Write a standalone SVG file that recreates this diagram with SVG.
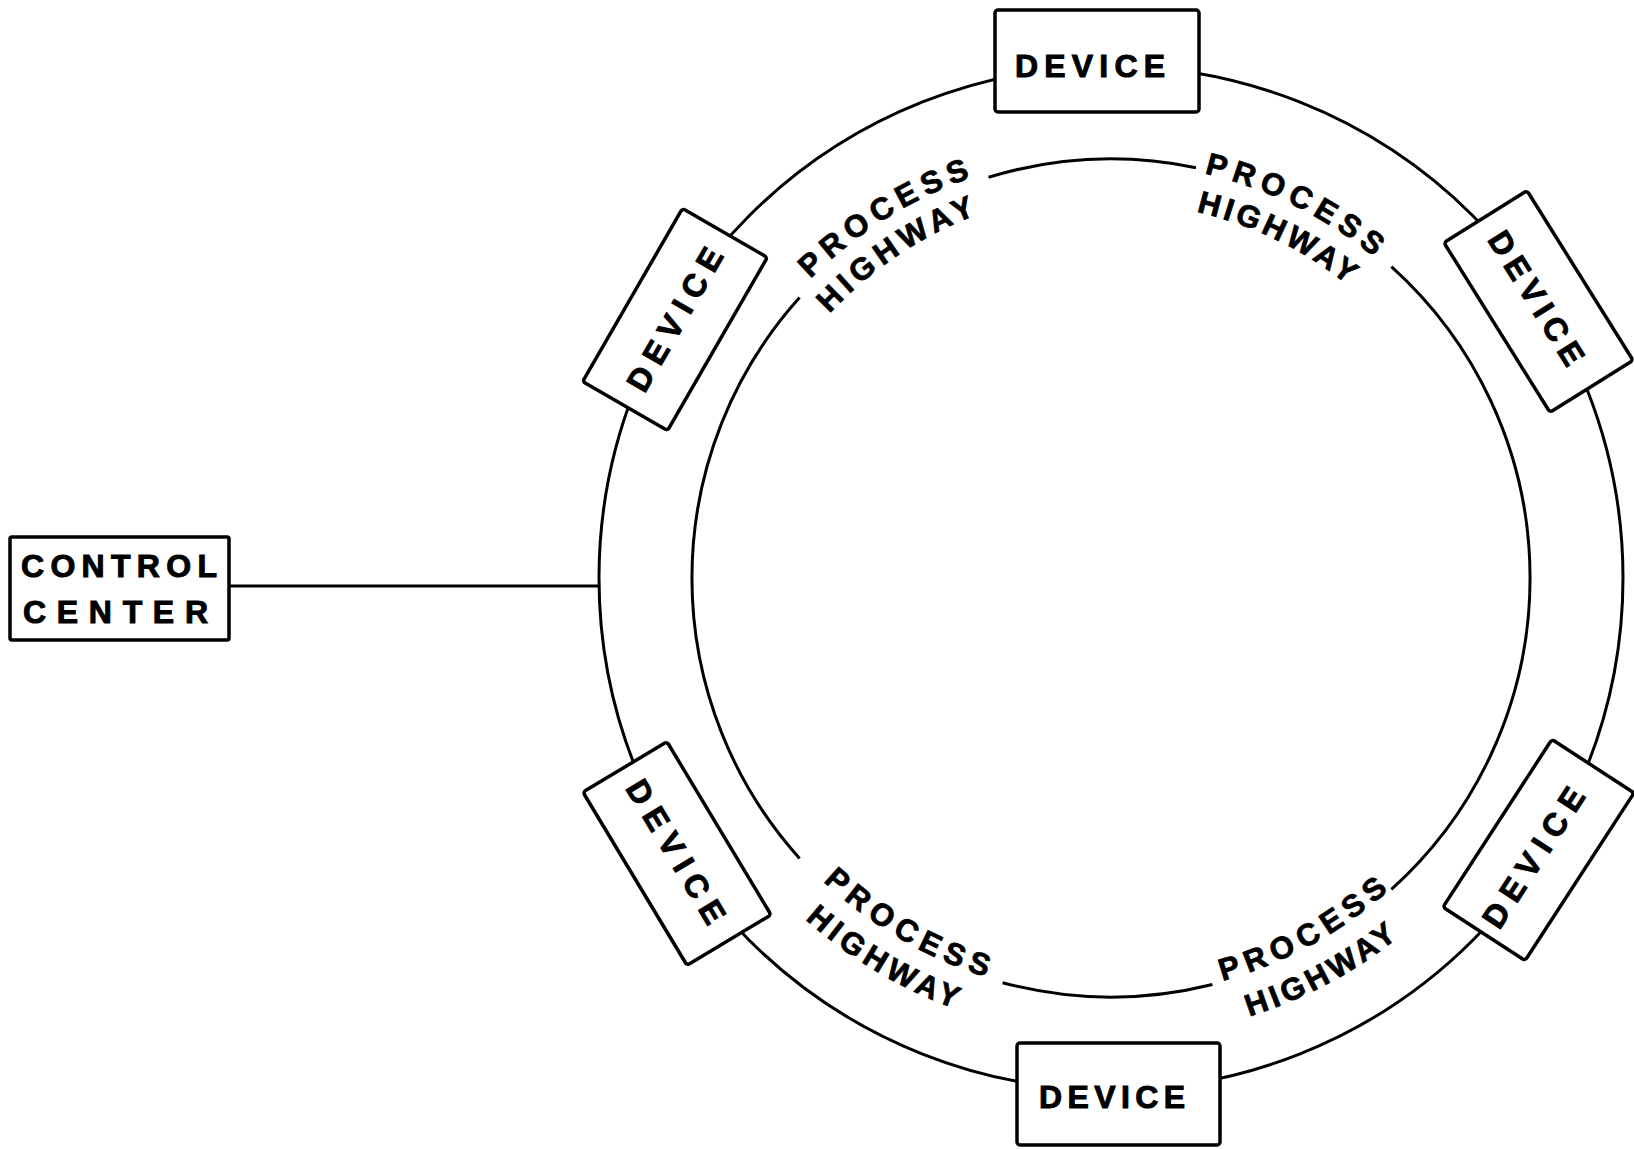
<svg xmlns="http://www.w3.org/2000/svg" width="1634" height="1149" viewBox="0 0 1634 1149">
<style>
.box{fill:#fff;stroke:#000;stroke-width:3.5;stroke-linejoin:round}
.ln{fill:none;stroke:#000;stroke-width:3}
.lbl{font-family:"Liberation Sans",Arial,sans-serif;font-weight:bold;font-size:32px;fill:#000;stroke:#000;stroke-width:1}
.hw{font-family:"Liberation Sans",Arial,sans-serif;font-weight:bold;font-size:31px;fill:#000;stroke:#000;stroke-width:0.8}
</style>
<defs>
<path id="tlP" d="M708.2,445.6 A424,424 0 0 1 1171.5,158.3"/>
<path id="tlH" d="M740.6,471.3 A389,389 0 0 1 1160.6,192.2"/>
<path id="trP" d="M1014.8,174.3 A415,415 0 0 1 1491.9,413.2"/>
<path id="trH" d="M1023.3,213.2 A375,375 0 0 1 1455.4,424.6"/>
<path id="blP" d="M718.2,721.0 A418,418 0 0 0 1183.6,989.6"/>
<path id="blH" d="M679.0,730.1 A458,458 0 0 0 1185.8,1029.9"/>
<path id="brP" d="M1031.2,988.3 A418,418 0 0 0 1501.2,727.8"/>
<path id="brH" d="M1017.7,1028.4 A460,460 0 0 0 1538.4,748.1"/>
</defs>
<rect width="1634" height="1149" fill="#fff"/>
<g id="connectors">
<circle class="ln" cx="1111" cy="578" r="512"/>
<path class="ln" d="M988.5,177.3 A419,419 0 0 1 1196.0,167.7"/>
<path class="ln" d="M1391.4,266.6 A419,419 0 0 1 1391.4,889.4"/>
<path class="ln" d="M1212.4,984.5 A419,419 0 0 1 1002.6,982.7"/>
<path class="ln" d="M799.6,858.4 A419,419 0 0 1 799.6,297.6"/>
<line class="ln" x1="229" y1="586" x2="600" y2="586"/>
</g>
<g id="highway-labels">
<text class="hw" text-anchor="middle" letter-spacing="6.5"><textPath href="#tlP" startOffset="50%">PROCESS</textPath></text>
<text class="hw" text-anchor="middle" letter-spacing="5.5"><textPath href="#tlH" startOffset="50%">HIGHWAY</textPath></text>
<text class="hw" text-anchor="middle" letter-spacing="6.5"><textPath href="#trP" startOffset="50%">PROCESS</textPath></text>
<text class="hw" text-anchor="middle" letter-spacing="4"><textPath href="#trH" startOffset="50%">HIGHWAY</textPath></text>
<text class="hw" text-anchor="middle" letter-spacing="6.5"><textPath href="#blP" startOffset="50%">PROCESS</textPath></text>
<text class="hw" text-anchor="middle" letter-spacing="5"><textPath href="#blH" startOffset="50%">HIGHWAY</textPath></text>
<text class="hw" text-anchor="middle" letter-spacing="6.5"><textPath href="#brP" startOffset="50%">PROCESS</textPath></text>
<text class="hw" text-anchor="middle" letter-spacing="4"><textPath href="#brH" startOffset="50%">HIGHWAY</textPath></text>
</g>
<g id="control-center">
<rect class="box" x="10" y="537" width="219" height="103" rx="2"/>
<text class="lbl" x="21" y="577" font-size="35" textLength="196" lengthAdjust="spacing">CONTROL</text>
<text class="lbl" x="23" y="623" font-size="35" textLength="185" lengthAdjust="spacing">CENTER</text>
</g>
<g id="device-top">
<rect class="box" x="995" y="10" width="204" height="102" rx="3"/>
<text class="lbl" x="1090" y="77" text-anchor="middle" textLength="150" lengthAdjust="spacing">DEVICE</text>
</g>
<g id="device-upper-left" transform="translate(675,319.5) rotate(-60)">
<rect class="box" x="-100" y="-49" width="200" height="98" rx="3"/>
<text class="lbl" x="0" y="11" text-anchor="middle" textLength="160" lengthAdjust="spacing">DEVICE</text>
</g>
<g id="device-upper-right" transform="translate(1538.5,301.5) rotate(58)">
<rect class="box" x="-100" y="-49" width="200" height="98" rx="3"/>
<text class="lbl" x="-4" y="11" text-anchor="middle" textLength="152" lengthAdjust="spacing">DEVICE</text>
</g>
<g id="device-lower-left" transform="translate(677,853.5) rotate(59)">
<rect class="box" x="-101" y="-49" width="202" height="98" rx="3"/>
<text class="lbl" x="-2" y="11" text-anchor="middle" textLength="162" lengthAdjust="spacing">DEVICE</text>
</g>
<g id="device-lower-right" transform="translate(1538.5,850) rotate(-57)">
<rect class="box" x="-100" y="-49" width="200" height="98" rx="3"/>
<text class="lbl" x="-9" y="11" text-anchor="middle" textLength="160" lengthAdjust="spacing">DEVICE</text>
</g>
<g id="device-bottom">
<rect class="box" x="1017" y="1043" width="203" height="102" rx="3"/>
<text class="lbl" x="1112" y="1108" text-anchor="middle" textLength="146" lengthAdjust="spacing">DEVICE</text>
</g>
</svg>
